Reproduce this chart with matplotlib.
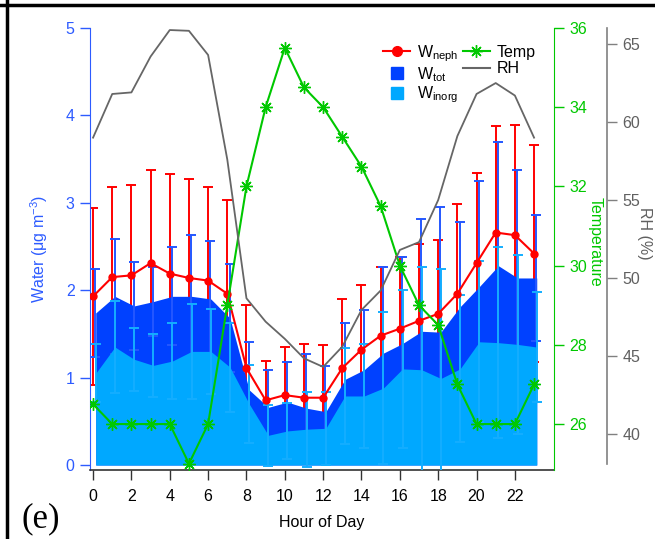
import numpy as np
import matplotlib.pyplot as plt
from matplotlib.lines import Line2D

plt.rcParams['font.family'] = ['Liberation Sans', 'DejaVu Sans']
plt.rcParams['mathtext.fontset'] = 'custom'
plt.rcParams['mathtext.rm'] = 'Liberation Sans'
plt.rcParams['mathtext.it'] = 'Liberation Sans:italic'
plt.rcParams['mathtext.bf'] = 'Liberation Sans:bold'

# ---- data ----
hours = np.arange(24)

w_neph = [1.93, 2.15, 2.17, 2.31, 2.19, 2.14, 2.11, 1.96, 1.11, 0.74, 0.80, 0.77,
          0.77, 1.11, 1.32, 1.48, 1.56, 1.65, 1.73, 1.96, 2.31, 2.66, 2.63, 2.42]
neph_err = [1.01, 1.03, 1.03, 1.07, 1.14, 1.13, 1.07, 1.07, 0.72, 0.45, 0.55, 0.61,
            0.60, 0.79, 0.74, 0.78, 0.82, 0.88, 0.84, 1.03, 1.03, 1.22, 1.26, 1.24]

w_tot = [1.74, 1.93, 1.82, 1.87, 1.93, 1.93, 1.90, 1.68, 0.86, 0.66, 0.72, 0.65,
         0.61, 0.98, 1.09, 1.28, 1.39, 1.53, 1.52, 1.81, 2.04, 2.28, 2.14, 2.14]
tot_err = [0.50, 0.66, 0.50, 0.39, 0.56, 0.70, 0.66, 0.62, 0.55, 0.43, 0.46, 0.62,
           0.52, 0.65, 0.68, 0.98, 0.99, 1.29, 1.43, 0.97, 1.21, 1.41, 1.24, 0.72]

w_inorg = [1.05, 1.35, 1.21, 1.14, 1.19, 1.30, 1.30, 1.12, 0.70, 0.34, 0.39, 0.41,
           0.42, 0.79, 0.79, 0.88, 1.10, 1.09, 0.99, 1.10, 1.41, 1.40, 1.38, 1.35]
inorg_err = [0.33, 0.53, 0.36, 0.36, 0.44, 0.54, 0.49, 0.51, 0.45, 0.35, 0.32, 0.43,
             0.42, 0.55, 0.59, 0.87, 0.90, 1.18, 1.25, 0.84, 0.92, 1.09, 1.02, 0.63]

temp = [26.5, 26, 26, 26, 26, 25, 26, 29, 32, 34, 35.5, 34.5,
        34, 33.25, 32.5, 31.5, 30, 29, 28.5, 27, 26, 26, 26, 27]

rh = [59.0, 61.8, 61.9, 64.2, 65.9, 65.85, 64.3, 57.6, 48.7, 47.2, 46.1, 44.85,
      44.3, 45.6, 47.95, 49.2, 51.8, 52.3, 55.0, 59.1, 61.8, 62.5, 61.7, 59.0]

# colours
c_axis_blue = '#2d5bff'
c_tot = '#0041ff'
c_inorg = '#00a8ff'
c_tot_bar = '#2457ff'
c_inorg_bar = '#14aeff'
c_red = '#ff0000'
c_green = '#00c800'
c_gray = '#666666'

W, H = 655, 539
fig = plt.figure(figsize=(W / 100, H / 100), dpi=100)
ax = fig.add_axes([90 / W, 1 - 470 / H, 464 / W, 442 / H])

# same stacking as the original: red trace, then tot (fill+bars), then inorg (fill+bars)
off = 0.14
ax.errorbar(hours, w_neph, yerr=neph_err, fmt='none', ecolor=c_red,
            elinewidth=1.4, capsize=3.6, capthick=1.4, zorder=1)
ax.fill_between(hours + off, 0, w_tot, color=c_tot, lw=0, zorder=2)
ax.errorbar(hours + 0.12, w_tot, yerr=tot_err, fmt='none', ecolor=c_tot_bar,
            elinewidth=1.4, capsize=3.6, capthick=1.4, zorder=2.1)
ax.fill_between(hours + off, 0, w_inorg, color=c_inorg, lw=0, zorder=3)
ax.errorbar(hours + off, w_inorg, yerr=inorg_err, fmt='none', ecolor=c_inorg_bar,
            elinewidth=1.4, capsize=3.6, capthick=1.4, zorder=3.1)
ax.plot(hours, w_neph, color=c_red, marker='o', ms=5, lw=1.5, zorder=4)

ax.set_xlim(-0.16, 24.04)
ax.set_ylim(-0.057, 5)
ax.set_xticks(np.arange(0, 23, 2))
ax.set_yticks(np.arange(0, 6, 1))
ax.tick_params(axis='x', direction='out', length=7, width=1, pad=6.5, labelsize=11.5,
               color='#333333', labelcolor='black')
ax.tick_params(axis='y', direction='out', length=7, width=1, pad=4, labelsize=11.5,
               color=c_axis_blue, labelcolor=c_axis_blue)
ax.spines['top'].set_visible(False)
ax.spines['right'].set_visible(False)
ax.spines['left'].set_color(c_axis_blue)
ax.spines['bottom'].set_color('#333333')
ax.spines['bottom'].set_linewidth(1.2)
ax.set_xlabel('Hour of Day', fontsize=11.5, va='center')
ax.xaxis.set_label_coords(0.5, -0.118)
ax.set_ylabel('Water (\u03bcg m$^{-3}$)', fontsize=11.5, color=c_axis_blue,
              va='center', ha='center')
ax.yaxis.set_label_coords(-0.109, 0.50)

# temperature axis
ax2 = ax.twinx()
ax2.plot(hours, temp, color=c_green, lw=1.5, marker=(8, 2, 0), ms=9, mew=1)
ax2.set_ylim(24.84, 36)
ax2.set_yticks(np.arange(26, 37, 2))
for s in ['left', 'top', 'bottom']:
    ax2.spines[s].set_visible(False)
ax2.spines['right'].set_color(c_green)
ax2.tick_params(axis='y', direction='out', length=7, width=1, pad=4, labelsize=11.5,
                color=c_green, labelcolor=c_green)
ax2.set_ylabel('Temperature', fontsize=11.5, color=c_green, rotation=-90,
               va='center', ha='center')
ax2.yaxis.set_label_coords(1.088, 0.515)

# RH axis
ax3 = ax.twinx()
ax3.plot(hours, rh, color=c_gray, lw=1.3)
ax3.set_ylim(37.69, 66.03)
ax3.set_yticks(np.arange(40, 66, 5))
for s in ['left', 'top', 'bottom']:
    ax3.spines[s].set_visible(False)
ax3.spines['right'].set_position(('axes', (607 - 90) / 464))
ax3.spines['right'].set_bounds(38.08, 66.03)
ax3.spines['right'].set_color('#808080')
ax3.spines['right'].set_linewidth(1.2)
ax3.tick_params(axis='y', direction='out', length=7, width=1, pad=4, labelsize=11.5,
                color='#808080', labelcolor='#606060')
ax3.set_ylabel('RH (%)', fontsize=11.5, color='#606060', rotation=-90,
               va='center', ha='center')
ax3.yaxis.set_label_coords(1.195, 0.536)

# legend
handles = [
    Line2D([], [], color=c_red, marker='o', ms=7, lw=1.5),
    Line2D([], [], color=c_tot, marker='s', ms=8, ls='none'),
    Line2D([], [], color=c_inorg, marker='s', ms=8, ls='none'),
    Line2D([], [], color=c_green, marker=(8, 2, 0), ms=9, lw=1.5),
    Line2D([], [], color=c_gray, lw=1.5),
]
labels = ['W$_{\\mathrm{neph}}$', 'W$_{\\mathrm{tot}}$', 'W$_{\\mathrm{inorg}}$', 'Temp', 'RH']
ax3.legend(handles, labels, ncol=2, loc='upper left', frameon=False, fontsize=11.5,
           bbox_to_anchor=(383 / W, 1 - 43 / H), bbox_transform=fig.transFigure,
           borderpad=0, borderaxespad=0, handlelength=1.7, handletextpad=0.4,
           columnspacing=0.3, labelspacing=0.08)

# panel label and frame
fig.text(41 / W, 1 - 519 / H, '(e)', family='Liberation Serif', fontsize=25,
         ha='center', va='center')
fig.add_artist(Line2D([0, 1], [1 - 5 / H, 1 - 5 / H], transform=fig.transFigure,
                      color='black', lw=2.5))
fig.add_artist(Line2D([7 / W, 7 / W], [0, 1], transform=fig.transFigure,
                      color='black', lw=2.5))

fig.savefig('out.png', dpi=100)
